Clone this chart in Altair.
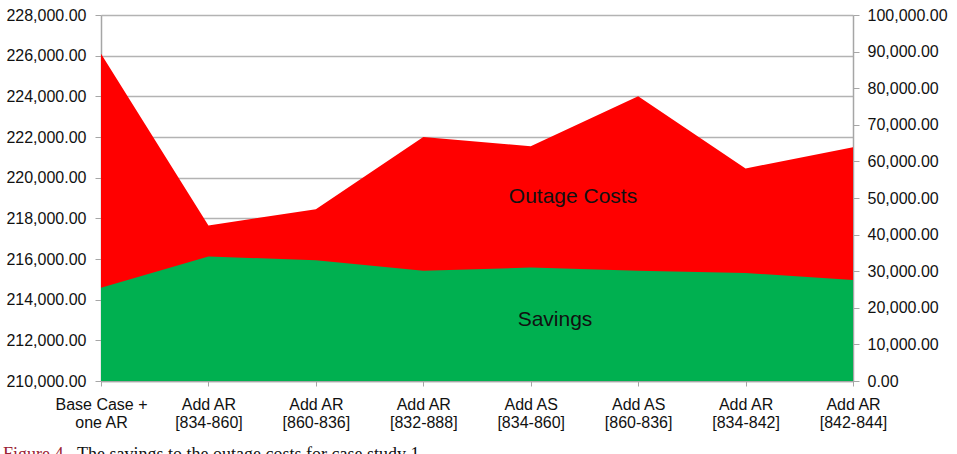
import altair as alt
import pandas as pd

# Scenario names (the "|" marks the line break of each axis label)
categories = [
    "Base Case +|one AR",
    "Add AR|[834-860]",
    "Add AR|[860-836]",
    "Add AR|[832-888]",
    "Add AS|[834-860]",
    "Add AS|[860-836]",
    "Add AR|[834-842]",
    "Add AR|[842-844]",
]
# Outage costs, read on the left axis
outage_costs = [226100, 217650, 218450, 222000, 221550, 224000, 220450, 221500]
# Savings, read on the right axis
savings = [25500, 34000, 33000, 30100, 31000, 30100, 29500, 27600]

left_ticks = list(range(210000, 228001, 2000))
right_ticks = list(range(0, 100001, 10000))

df = pd.DataFrame({"case": categories, "outage": outage_costs, "savings": savings})

FONT = "Liberation Sans"
AXIS_GRAY = "#a6a6a6"

x_enc = alt.X(
    "case:N",
    sort=categories,
    scale=alt.Scale(type="point", padding=0),
    axis=alt.Axis(
        title=None,
        labelAngle=0,
        labelExpr="split(datum.label, '|')",
        labelFont=FONT,
        labelFontSize=16,
        labelLineHeight=18,
        labelColor="#111111",
        labelPadding=10,
        tickSize=5,
        tickColor=AXIS_GRAY,
        domainColor=AXIS_GRAY,
        domainWidth=1.5,
        grid=False,
    ),
)

outage_area = alt.Chart(df).mark_area(color="#ff0000", opacity=1).encode(
    x=x_enc,
    y=alt.Y(
        "outage:Q",
        scale=alt.Scale(domain=[210000, 228000], zero=False, nice=False),
        axis=alt.Axis(
            orient="left",
            title=None,
            values=left_ticks,
            format=",.2f",
            labelFont=FONT,
            labelFontSize=16,
            labelColor="#111111",
            labelPadding=9,
            tickSize=6,
            tickColor=AXIS_GRAY,
            domainColor=AXIS_GRAY,
            domainWidth=1.5,
            grid=True,
            gridColor="#b3b3b3",
            gridWidth=1.5,
        ),
    ),
    y2=alt.datum(210000),
)

savings_area = alt.Chart(df).mark_area(color="#00b050", opacity=1).encode(
    x=x_enc,
    y=alt.Y(
        "savings:Q",
        scale=alt.Scale(domain=[0, 100000], nice=False),
        axis=alt.Axis(
            orient="right",
            title=None,
            values=right_ticks,
            format=",.2f",
            labelFont=FONT,
            labelFontSize=16,
            labelColor="#111111",
            labelPadding=8,
            tickSize=6,
            tickColor=AXIS_GRAY,
            domainColor=AXIS_GRAY,
            domainWidth=1.5,
            grid=False,
        ),
    ),
    y2=alt.datum(0),
)

# Series names written inside the areas
outage_label = alt.Chart(pd.DataFrame({"t": ["Outage Costs"]})).mark_text(
    font=FONT, fontSize=21, color="#111111", align="center", baseline="middle"
).encode(text="t:N", x=alt.value(472), y=alt.value(182))

savings_label = alt.Chart(pd.DataFrame({"t": ["Savings"]})).mark_text(
    font=FONT, fontSize=21, color="#111111", align="center", baseline="middle"
).encode(text="t:N", x=alt.value(454), y=alt.value(305))

# Figure caption below the chart
caption_head = alt.Chart(pd.DataFrame({"t": ["Figure 4."]})).mark_text(
    font="Liberation Serif", fontSize=18, color="#9b2335", align="left", baseline="alphabetic"
).encode(text="t:N", x=alt.value(-98), y=alt.value(445))

caption_body = alt.Chart(
    pd.DataFrame({"t": ["The savings to the outage costs for case study 1."]})
).mark_text(
    font="Liberation Serif", fontSize=18, color="#111111", align="left", baseline="alphabetic"
).encode(text="t:N", x=alt.value(-24), y=alt.value(445))

chart = (
    alt.layer(outage_area, savings_area, outage_label, savings_label, caption_head, caption_body)
    .resolve_scale(y="independent")
    .properties(
        width=752,
        height=366,
        autosize=alt.AutoSizeParams(type="none"),
        padding={"left": 101, "top": 15, "right": 104, "bottom": 73},
        background="white",
    )
    .configure_view(strokeWidth=0)
)

chart.save("out.html", embed_options={"renderer": "svg", "actions": False})
